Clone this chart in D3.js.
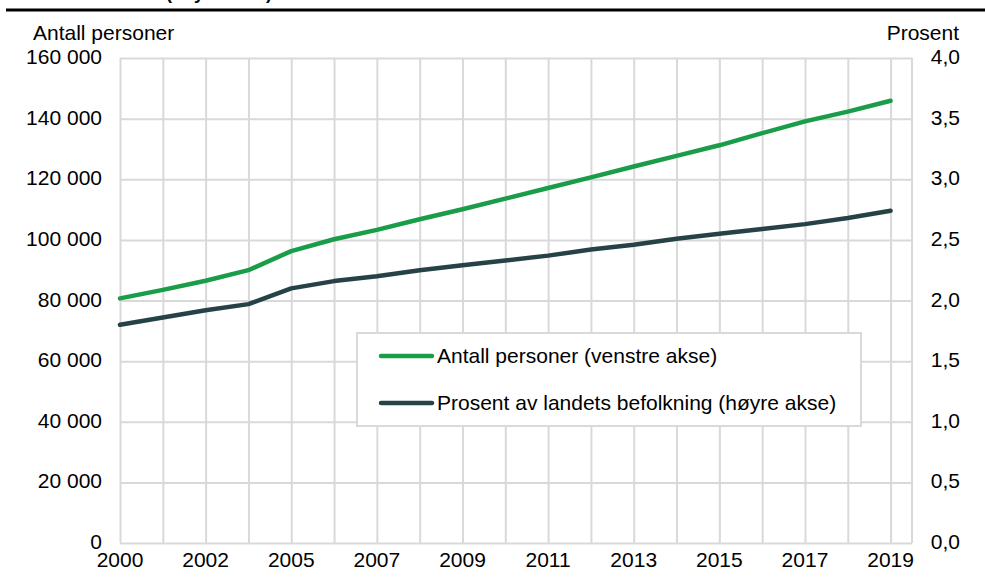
<!DOCTYPE html>
<html>
<head>
<meta charset="utf-8">
<script src="https://cdn.jsdelivr.net/npm/d3@7"></script>
<style>
    body { margin: 0; background: #fff; }
    text { font-family: Arial, "Liberation Sans", sans-serif; fill: #000; }
    .grid line { stroke: #d9d9d9; stroke-width: 2; }
    .grid path { display: none; }
</style>
</head>
<body>
<div id="container"></div>
<script>
const years = [2000, 2001, 2002, 2004, 2005, 2006, 2007, 2008, 2009, 2010,
    2011, 2012, 2013, 2014, 2015, 2016, 2017, 2018, 2019];
const persons = [80700, 83500, 86500, 90000, 96300, 100200, 103300, 106800, 110100, 113600,
    117100, 120600, 124200, 127700, 131200, 135200, 139100, 142300, 145900];
const percent = [1.80, 1.86, 1.92, 1.97, 2.10, 2.16, 2.20, 2.25, 2.29, 2.33,
    2.37, 2.42, 2.46, 2.51, 2.55, 2.59, 2.63, 2.68, 2.74];
const leftTicks = [0, 20000, 40000, 60000, 80000, 100000, 120000, 140000, 160000];
const rightTicks = [0, 0.5, 1, 1.5, 2, 2.5, 3, 3.5, 4];
const labelYears = [2000, 2002, 2005, 2007, 2009, 2011, 2013, 2015, 2017, 2019];

const W = 985, H = 581;
const plotL = 120, plotR = 912, plotT = 58, plotB = 543;
const fs = 21;

const svg = d3.select('#container')
    .append('svg')
    .attr('width', W)
    .attr('height', H);

const xScale = d3.scalePoint()
    .domain(years)
    .range([plotL, plotR])
    .padding(0.25)
    .align(0);

const yLeft = d3.scaleLinear().domain([0, 160000]).range([plotB, plotT]);
const yRight = d3.scaleLinear().domain([0, 4]).range([plotB, plotT]);

// title is cut off above the picture, only the rule and some descenders show
svg.append('text')
    .attr('x', 272)
    .attr('y', -1)
    .attr('text-anchor', 'end')
    .style('font-weight', 'bold')
    .style('font-size', '18px')
    .text('Andel (høyre akse)');

svg.append('line')
    .attr('x1', 6).attr('x2', W)
    .attr('y1', 10).attr('y2', 10)
    .attr('stroke', '#000')
    .attr('stroke-width', 3);

// grid
svg.append('g')
    .attr('class', 'grid')
    .attr('transform', `translate(${plotL},0)`)
    .call(d3.axisLeft(yLeft).tickValues(leftTicks).tickSize(-(plotR - plotL)).tickFormat(''));

svg.append('g')
    .attr('class', 'grid')
    .attr('transform', `translate(0,${plotB})`)
    .call(d3.axisBottom(xScale).tickSize(-(plotB - plotT)).tickFormat(''));

svg.append('line')
    .attr('x1', plotR).attr('x2', plotR)
    .attr('y1', plotT).attr('y2', plotB)
    .attr('stroke', '#d9d9d9')
    .attr('stroke-width', 2);

// tick labels
const fmtLeft = d => d3.format(',')(d).replace(/,/g, ' ');
const fmtRight = d => d3.format('.1f')(d).replace('.', ',');

svg.selectAll('.ly')
    .data(leftTicks)
    .enter()
    .append('text')
    .attr('x', 102)
    .attr('y', d => yLeft(d) + 6)
    .attr('text-anchor', 'end')
    .style('font-size', fs + 'px')
    .text(fmtLeft);

svg.selectAll('.ry')
    .data(rightTicks)
    .enter()
    .append('text')
    .attr('x', 960)
    .attr('y', d => yRight(d) + 6)
    .attr('text-anchor', 'end')
    .style('font-size', fs + 'px')
    .text(fmtRight);

svg.selectAll('.xl')
    .data(labelYears)
    .enter()
    .append('text')
    .attr('x', d => xScale(d))
    .attr('y', 567)
    .attr('text-anchor', 'middle')
    .style('font-size', fs + 'px')
    .text(d => d);

svg.append('text')
    .attr('x', 33)
    .attr('y', 40)
    .style('font-size', fs + 'px')
    .text('Antall personer');

svg.append('text')
    .attr('x', 959)
    .attr('y', 40)
    .attr('text-anchor', 'end')
    .style('font-size', fs + 'px')
    .text('Prosent');

// lines
const green = '#1a9d49', dark = '#274247';

svg.append('path')
    .datum(years)
    .attr('fill', 'none')
    .attr('stroke', green)
    .attr('stroke-width', 4.5)
    .attr('stroke-linecap', 'round')
    .attr('stroke-linejoin', 'round')
    .attr('d', d3.line().x(d => xScale(d)).y((d, i) => yLeft(persons[i])));

svg.append('path')
    .datum(years)
    .attr('fill', 'none')
    .attr('stroke', dark)
    .attr('stroke-width', 4.5)
    .attr('stroke-linecap', 'round')
    .attr('stroke-linejoin', 'round')
    .attr('d', d3.line().x(d => xScale(d)).y((d, i) => yRight(percent[i])));

// legend
const legend = svg.append('g');
legend.append('rect')
    .attr('x', 357).attr('y', 333)
    .attr('width', 504).attr('height', 93)
    .attr('fill', '#fff')
    .attr('stroke', '#d9d9d9')
    .attr('stroke-width', 2);

const items = [
    { label: 'Antall personer (venstre akse)', color: green, y: 356 },
    { label: 'Prosent av landets befolkning (høyre akse)', color: dark, y: 403 }
];

items.forEach(it => {
    legend.append('line')
        .attr('x1', 381).attr('x2', 432)
        .attr('y1', it.y).attr('y2', it.y)
        .attr('stroke', it.color)
        .attr('stroke-width', 4.5)
        .attr('stroke-linecap', 'round');
    legend.append('text')
        .attr('x', 437)
        .attr('y', it.y + 7)
        .style('font-size', fs + 'px')
        .text(it.label);
});
</script>
</body>
</html>
